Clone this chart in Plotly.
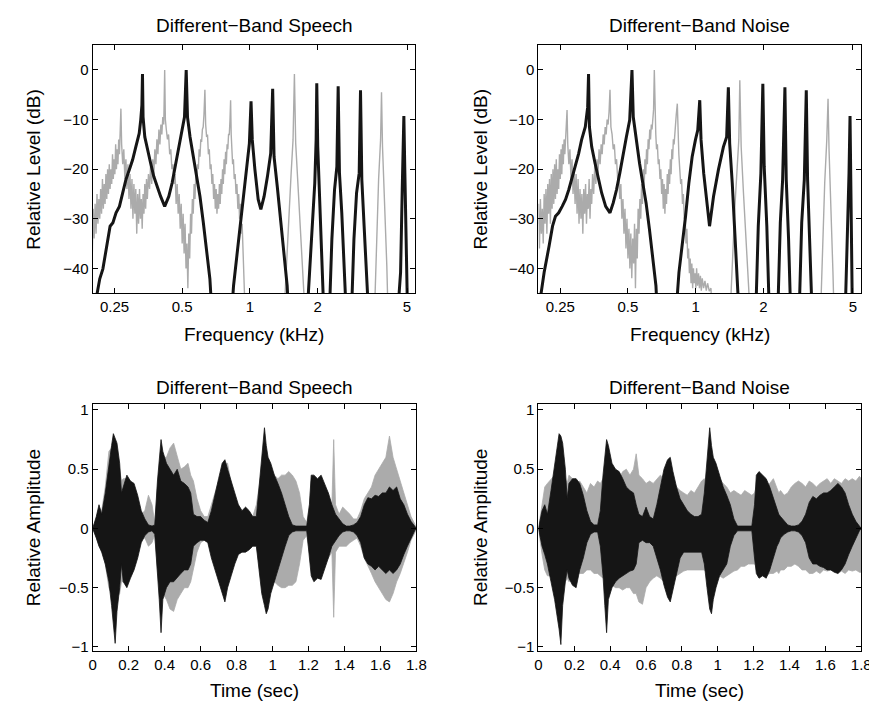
import plotly.graph_objects as go

# ---------------- DATA ----------------
# Spectra as (frequency kHz, level dB) pairs; -50 marks where a trace drops below the axis
SPEECH_BLACK_SPEC = [
    (0.2, -50), (0.215, -42.1), (0.222, -40.1), (0.228, -36.8), (0.234, -33.5), (0.239, -31.5), (0.246, -30.8),
    (0.254, -28.8), (0.263, -27.5), (0.272, -24.8), (0.281, -22.1), (0.291, -20.1), (0.301, -18.1), (0.311, -15.5),
    (0.322, -12.8), (0.327, -10.1), (0.331, -7.1), (0.333, -0.8), (0.335, -9.5), (0.341, -13.5), (0.350, -16.1),
    (0.362, -18.8), (0.374, -21.5), (0.387, -23.5), (0.401, -25.5), (0.418, -27.5), (0.436, -25.5), (0.451, -22.8),
    (0.466, -19.5), (0.482, -16.1), (0.499, -12.8), (0.512, -9.5), (0.521, 0), (0.528, -9.5), (0.542, -13.5),
    (0.561, -17.5), (0.58, -20.8), (0.600, -25.5), (0.621, -30.8), (0.642, -36.8), (0.664, -42.1), (0.680, -50),
    (0.827, -50), (0.846, -43.5), (0.875, -37.5), (0.905, -31.5), (0.936, -24.8), (0.968, -19.5), (0.995, -14.8),
    (1.012, -6.3), (1.025, -14.1), (1.053, -20.1), (1.089, -26.1), (1.119, -28.1), (1.157, -25.5), (1.197, -21.5),
    (1.238, -16.8), (1.263, -3.8), (1.281, -17.5), (1.324, -23.5), (1.370, -30.1), (1.417, -36.8), (1.465, -43.5),
    (1.49, -50),
    (1.794, -50), (1.843, -40.8), (1.892, -31.5), (1.944, -22.8), (1.971, -14.1), (1.984, -2.7), (2.004, -15.5),
    (2.038, -25.5), (2.086, -35.5), (2.136, -50),
    (2.254, -50), (2.316, -34.1), (2.38, -24.1), (2.437, -19.5), (2.47, -3.3), (2.503, -20.8), (2.563, -28.8),
    (2.633, -39.5), (2.687, -50),
    (2.826, -50), (2.903, -34.1), (2.982, -24.8), (3.063, -20.8), (3.105, -4.1), (3.147, -22.1), (3.222, -31.5),
    (3.31, -40.8), (3.378, -50),
    (4.53, -50), (4.68, -40.8), (4.76, -24.1), (4.81, -17.5), (4.84, -9.3), (4.89, -20.8), (4.96, -34.1), (5.03, -50),
]

SPEECH_GRAY_SPEC = [
    (0.194, -36), (0.197, -30), (0.199, -38), (0.201, -28), (0.203, -34), (0.205, -27), (0.207, -33), (0.209, -25),
    (0.211, -31), (0.213, -26), (0.215, -30), (0.217, -24), (0.219, -29), (0.221, -22), (0.223, -28), (0.225, -23),
    (0.227, -27), (0.229, -21), (0.231, -26), (0.233, -20), (0.235, -25), (0.237, -19), (0.239, -24), (0.241, -20),
    (0.243, -23), (0.245, -17), (0.247, -22), (0.249, -18), (0.251, -21), (0.253, -15), (0.255, -20), (0.257, -16),
    (0.259, -19), (0.261, -14), (0.263, -17), (0.265, -12), (0.267, -7.8), (0.269, -15), (0.272, -19), (0.275, -16),
    (0.278, -22), (0.281, -18), (0.284, -24), (0.287, -19), (0.290, -26), (0.293, -21), (0.296, -28), (0.299, -22),
    (0.302, -30), (0.305, -23), (0.308, -29), (0.311, -24), (0.314, -33), (0.317, -25), (0.320, -31), (0.323, -24),
    (0.326, -30), (0.329, -26), (0.332, -32), (0.335, -25), (0.338, -29), (0.341, -23), (0.344, -28), (0.347, -22),
    (0.350, -26), (0.354, -21), (0.358, -24), (0.362, -19), (0.366, -23), (0.370, -18), (0.374, -21), (0.378, -16),
    (0.382, -19), (0.386, -14), (0.390, -17), (0.394, -12), (0.398, -15), (0.402, -11), (0.406, -13), (0.410, -9.5),
    (0.414, -11), (0.418, 0),
    (0.421, -10), (0.425, -12), (0.430, -14), (0.435, -13), (0.440, -17), (0.445, -16), (0.450, -20), (0.455, -19),
    (0.460, -23), (0.465, -21), (0.470, -27), (0.475, -23), (0.480, -29), (0.485, -25), (0.490, -32), (0.495, -27),
    (0.500, -35), (0.505, -29), (0.510, -37), (0.515, -31), (0.520, -40), (0.525, -35), (0.530, -44), (0.535, -33),
    (0.540, -38), (0.545, -29), (0.550, -33), (0.555, -26), (0.560, -29), (0.565, -23), (0.570, -26), (0.575, -21),
    (0.580, -23), (0.585, -19), (0.590, -20), (0.595, -16), (0.600, -17.5), (0.605, -14), (0.610, -14.5),
    (0.615, -12), (0.620, -11.5), (0.625, -9), (0.631, -4), (0.636, -11), (0.642, -13.5), (0.648, -13),
    (0.654, -17), (0.660, -16), (0.666, -20), (0.672, -19), (0.678, -23), (0.684, -21), (0.690, -26), (0.696, -23),
    (0.702, -28), (0.708, -24), (0.714, -29), (0.720, -25), (0.726, -28), (0.732, -23), (0.738, -27), (0.744, -22),
    (0.750, -25), (0.756, -20), (0.762, -23), (0.768, -18), (0.774, -21), (0.780, -16.5), (0.786, -19),
    (0.792, -15), (0.798, -16), (0.804, -13), (0.810, -13), (0.816, -10), (0.821, -6.1), (0.826, -13),
    (0.832, -17), (0.838, -19), (0.845, -18), (0.852, -22), (0.860, -21), (0.868, -25), (0.876, -23), (0.884, -28),
    (0.892, -25), (0.900, -30), (0.908, -27), (0.916, -33), (0.924, -31), (0.932, -38), (0.940, -42), (0.946, -45),
    (0.955, -50),
    (1.417, -50), (1.45, -40.8), (1.49, -28.8), (1.526, -20.8), (1.556, -14.1), (1.578, -0.8), (1.599, -14.8),
    (1.637, -23.5), (1.682, -32.8), (1.734, -43.5), (1.763, -50),
    (3.578, -50), (3.662, -34.1), (3.737, -22.1), (3.813, -14.1), (3.85, -4.5), (3.89, -15.5), (3.97, -26.1),
    (4.065, -39.5), (4.12, -50),
]

NOISE_BLACK_SPEC = [
    (0.198, -50), (0.212, -40.8), (0.223, -35.5), (0.231, -31.5), (0.238, -29.5), (0.246, -28.8), (0.255, -27.5),
    (0.264, -26.1), (0.273, -24.1), (0.281, -22.1), (0.292, -19.5), (0.302, -16.8), (0.311, -14.1), (0.323, -11.5),
    (0.331, -7.5), (0.334, -0.8), (0.337, -11.5), (0.345, -15.5), (0.357, -18.8), (0.370, -22.1), (0.382, -24.8),
    (0.398, -27.5), (0.416, -28.8), (0.430, -26.8), (0.445, -24.1), (0.460, -20.8), (0.476, -16.8), (0.492, -13.5),
    (0.509, -10.1), (0.521, 0), (0.528, -9.5), (0.544, -14.1), (0.563, -18.8), (0.582, -22.8), (0.602, -26.8),
    (0.623, -32.1), (0.644, -37.5), (0.666, -43.5), (0.677, -50),
    (0.815, -50), (0.843, -40.8), (0.872, -35.5), (0.902, -29.5), (0.933, -22.8), (0.965, -17.5), (0.998, -14.1),
    (1.022, -12.1), (1.043, -6.1), (1.057, -14.1), (1.086, -20.8), (1.123, -27.5), (1.153, -31.5), (1.201, -25.5),
    (1.263, -20.1), (1.329, -15.5), (1.374, -13.5), (1.398, -3.5), (1.417, -14.8), (1.455, -22.8), (1.495, -31.5),
    (1.531, -40.8), (1.562, -50),
    (1.849, -50), (1.899, -31.5), (1.951, -20.8), (1.990, -2.8), (2.018, -19.5), (2.073, -31.5), (2.129, -50),
    (2.316, -50), (2.38, -30.8), (2.437, -22.1), (2.495, -3.5), (2.529, -22.1), (2.59, -34.1), (2.65, -50),
    (2.883, -50), (2.963, -30.8), (3.043, -22.1), (3.105, -4.1), (3.147, -22.1), (3.222, -34.1), (3.30, -50),
    (4.62, -50), (4.75, -30.8), (4.81, -20.8), (4.86, -9.3), (4.91, -24.1), (4.98, -50),
]

NOISE_GRAY_SPEC = [
    (0.198, -31), (0.200, -27), (0.202, -36), (0.204, -26), (0.206, -33), (0.208, -28), (0.210, -35), (0.212, -25),
    (0.214, -31), (0.216, -24), (0.218, -33), (0.220, -23), (0.222, -29), (0.224, -22), (0.226, -31), (0.228, -21),
    (0.230, -28), (0.232, -20), (0.234, -27), (0.236, -19), (0.238, -26), (0.240, -18), (0.242, -25), (0.244, -20),
    (0.246, -24), (0.248, -17), (0.250, -22), (0.252, -16), (0.254, -21), (0.256, -15), (0.258, -19), (0.260, -14),
    (0.262, -17), (0.264, -13), (0.266, -11), (0.268, -8.1), (0.270, -15), (0.273, -19), (0.276, -16), (0.279, -22),
    (0.282, -18), (0.285, -25), (0.288, -20), (0.291, -27), (0.294, -21), (0.297, -29), (0.300, -22), (0.303, -31),
    (0.306, -24), (0.309, -30), (0.312, -25), (0.315, -33), (0.318, -24), (0.321, -29), (0.324, -23), (0.327, -31),
    (0.330, -25), (0.333, -28), (0.336, -22), (0.339, -30), (0.342, -24), (0.345, -27), (0.348, -21), (0.352, -25),
    (0.356, -19), (0.360, -23), (0.364, -18), (0.368, -21), (0.372, -16), (0.376, -19), (0.380, -15), (0.384, -17),
    (0.388, -13), (0.392, -15), (0.396, -11.5), (0.400, -13), (0.404, -10), (0.408, -11), (0.412, -8.5),
    (0.416, -4),
    (0.420, -11.5), (0.425, -13), (0.430, -16), (0.435, -15), (0.440, -19), (0.445, -18), (0.450, -22),
    (0.455, -21), (0.460, -26), (0.465, -23), (0.470, -30), (0.475, -26), (0.480, -33), (0.485, -28), (0.490, -36),
    (0.495, -30), (0.500, -38), (0.505, -32), (0.510, -40), (0.515, -33), (0.520, -42), (0.525, -34), (0.530, -39),
    (0.535, -31), (0.540, -44), (0.545, -32), (0.550, -38), (0.555, -28), (0.560, -33), (0.565, -26), (0.570, -30),
    (0.575, -23), (0.580, -27), (0.585, -20), (0.590, -24), (0.595, -18), (0.600, -21), (0.605, -16), (0.610, -19),
    (0.615, -14), (0.620, -16), (0.625, -12), (0.630, -14), (0.635, -11), (0.640, -12), (0.645, -9), (0.650, -8),
    (0.655, 0),
    (0.660, -10), (0.665, -13), (0.670, -16), (0.676, -15), (0.682, -19), (0.688, -18), (0.694, -22), (0.700, -20),
    (0.706, -25), (0.712, -22), (0.718, -28), (0.724, -23), (0.730, -29), (0.736, -24), (0.742, -27), (0.748, -21),
    (0.754, -25), (0.760, -20), (0.766, -23), (0.772, -18), (0.778, -21), (0.784, -16), (0.790, -18), (0.796, -14),
    (0.802, -15), (0.808, -12), (0.814, -12), (0.820, -9), (0.829, -6.8), (0.835, -13), (0.842, -17), (0.850, -20),
    (0.858, -23), (0.866, -22), (0.874, -27), (0.882, -25), (0.890, -30), (0.898, -29), (0.906, -35), (0.914, -32),
    (0.922, -38), (0.930, -36), (0.938, -41), (0.946, -38), (0.954, -43), (0.962, -39), (0.970, -44), (0.978, -40),
    (0.986, -43), (0.994, -41), (1.002, -44), (1.010, -40), (1.020, -43.5), (1.030, -41), (1.040, -44),
    (1.050, -41.5), (1.060, -44.5), (1.070, -42), (1.085, -44), (1.100, -42.5), (1.115, -44.5), (1.130, -43),
    (1.150, -44.6), (1.170, -44), (1.185, -50),
    (1.421, -50), (1.460, -37.5), (1.495, -27.5), (1.531, -19.5), (1.556, -14.1), (1.572, -2.1), (1.594, -15.5),
    (1.632, -24.8), (1.676, -34.1), (1.722, -43.5), (1.751, -50),
    (3.59, -50), (3.675, -34.1), (3.75, -22.8), (3.83, -14.1), (3.88, -5.8), (3.92, -16.1), (4.00, -27.5),
    (4.08, -40.8), (4.13, -50),
]

FREQ_TICKS = [0.25, 0.5, 1, 2, 5]
FREQ_TICK_TEXT = ["0.25", "0.5", "1", "2", "5"]
LEVEL_TICKS = [-40, -30, -20, -10, 0]
TIME_TICKS = [0, 0.2, 0.4, 0.6, 0.8, 1, 1.2, 1.4, 1.6, 1.8]
AMP_TICKS = [-1, -0.5, 0, 0.5, 1]

# Waveform envelopes (time in s, relative amplitude)
TIME_S = [0, 0.02, 0.035, 0.05, 0.07, 0.09, 0.105, 0.115, 0.125, 0.135,
          0.15, 0.16, 0.17, 0.19, 0.21, 0.23, 0.25, 0.27, 0.29, 0.31,
          0.33, 0.345, 0.36, 0.37, 0.38, 0.39, 0.41, 0.43, 0.45, 0.47,
          0.49, 0.51, 0.53, 0.545, 0.56, 0.58, 0.6, 0.62, 0.64, 0.66,
          0.68, 0.7, 0.72, 0.735, 0.75, 0.77, 0.79, 0.81, 0.83, 0.85,
          0.87, 0.89, 0.91, 0.925, 0.94, 0.955, 0.965, 0.975, 0.99, 1.01,
          1.03, 1.05, 1.07, 1.09, 1.11, 1.13, 1.15, 1.17, 1.19, 1.205,
          1.215, 1.23, 1.25, 1.27, 1.29, 1.31, 1.33, 1.34, 1.35, 1.37,
          1.39, 1.41, 1.43, 1.45, 1.47, 1.49, 1.51, 1.53, 1.55, 1.57,
          1.59, 1.61, 1.63, 1.65, 1.67, 1.69, 1.71, 1.73, 1.75, 1.77,
          1.79, 1.8]

SPEECH_BLACK_UP = [0, 0.1, 0.2, 0.12, 0.3, 0.55, 0.7, 0.8, 0.76, 0.72,
                   0.55, 0.3, 0.35, 0.45, 0.4, 0.38, 0.28, 0.15, 0.08, 0.03,
                   0.02, 0.03, 0.4, 0.62, 0.75, 0.65, 0.55, 0.5, 0.45, 0.5,
                   0.4, 0.38, 0.35, 0.3, 0.12, 0.1, 0.1, 0.07, 0.05, 0.15,
                   0.3, 0.42, 0.55, 0.58, 0.5, 0.4, 0.3, 0.2, 0.15, 0.18,
                   0.15, 0.1, 0.1, 0.35, 0.55, 0.85, 0.7, 0.6, 0.55, 0.45,
                   0.38, 0.3, 0.2, 0.1, 0.03, 0.02, 0.02, 0.02, 0.02, 0.2,
                   0.45, 0.45, 0.42, 0.45, 0.38, 0.3, 0.2, 0.15, 0.12, 0.08,
                   0.04, 0.02, 0.02, 0.03, 0.05, 0.1, 0.2, 0.26, 0.25, 0.28,
                   0.27, 0.3, 0.3, 0.35, 0.32, 0.35, 0.25, 0.2, 0.12, 0.06,
                   0.02, 0]
SPEECH_BLACK_LO = [0, -0.08, -0.15, -0.2, -0.3, -0.45, -0.65, -0.8, -0.97, -0.7,
                   -0.5, -0.3, -0.45, -0.5, -0.42, -0.35, -0.25, -0.12, -0.06, -0.03,
                   -0.02, -0.05, -0.4, -0.6, -0.88, -0.6, -0.5, -0.45, -0.45, -0.42,
                   -0.38, -0.35, -0.35, -0.3, -0.15, -0.12, -0.1, -0.1, -0.12, -0.25,
                   -0.35, -0.45, -0.55, -0.62, -0.5, -0.4, -0.3, -0.22, -0.2, -0.2,
                   -0.18, -0.15, -0.15, -0.35, -0.55, -0.65, -0.72, -0.68, -0.55, -0.45,
                   -0.35, -0.25, -0.15, -0.06, -0.03, -0.02, -0.02, -0.02, -0.02, -0.25,
                   -0.4, -0.45, -0.42, -0.43, -0.35, -0.25, -0.15, -0.12, -0.1, -0.06,
                   -0.03, -0.02, -0.02, -0.03, -0.06, -0.12, -0.25, -0.3, -0.32, -0.35,
                   -0.32, -0.35, -0.38, -0.35, -0.38, -0.35, -0.3, -0.22, -0.15, -0.08,
                   -0.02, 0]
SPEECH_GRAY_UP = [0, 0.08, 0.18, 0.15, 0.35, 0.65, 0.68, 0.72, 0.7, 0.65,
                  0.5, 0.4, 0.42, 0.42, 0.38, 0.3, 0.2, 0.12, 0.15, 0.28,
                  0.2, 0.05, 0.35, 0.5, 0.55, 0.6, 0.6, 0.68, 0.72, 0.6,
                  0.5, 0.52, 0.55, 0.45, 0.4, 0.25, 0.15, 0.1, 0.1, 0.2,
                  0.3, 0.4, 0.5, 0.55, 0.55, 0.38, 0.25, 0.2, 0.15, 0.15,
                  0.12, 0.1, 0.2, 0.35, 0.5, 0.6, 0.55, 0.5, 0.5, 0.45,
                  0.42, 0.45, 0.45, 0.48, 0.45, 0.4, 0.3, 0.1, 0.05, 0.2,
                  0.4, 0.4, 0.38, 0.4, 0.35, 0.3, 0.2, 0.75, 0.2, 0.12,
                  0.18, 0.15, 0.12, 0.08, 0.08, 0.15, 0.25, 0.3, 0.35, 0.45,
                  0.5, 0.55, 0.6, 0.78, 0.6, 0.5, 0.4, 0.3, 0.2, 0.1,
                  0.04, 0]
SPEECH_GRAY_LO = [0, -0.08, -0.15, -0.18, -0.3, -0.5, -0.55, -0.6, -0.6, -0.58,
                  -0.55, -0.45, -0.45, -0.45, -0.4, -0.3, -0.2, -0.1, -0.08, -0.15,
                  -0.12, -0.05, -0.35, -0.45, -0.5, -0.55, -0.6, -0.68, -0.7, -0.6,
                  -0.55, -0.5, -0.5, -0.45, -0.35, -0.2, -0.12, -0.1, -0.1, -0.2,
                  -0.3, -0.4, -0.5, -0.55, -0.48, -0.35, -0.25, -0.2, -0.18, -0.18,
                  -0.15, -0.12, -0.15, -0.3, -0.5, -0.6, -0.6, -0.55, -0.5, -0.45,
                  -0.48, -0.5, -0.5, -0.48, -0.48, -0.45, -0.3, -0.1, -0.06, -0.2,
                  -0.35, -0.4, -0.4, -0.38, -0.3, -0.25, -0.2, -0.75, -0.2, -0.15,
                  -0.15, -0.15, -0.12, -0.1, -0.08, -0.15, -0.25, -0.32, -0.38, -0.45,
                  -0.5, -0.55, -0.6, -0.62, -0.55, -0.45, -0.38, -0.3, -0.2, -0.1,
                  -0.04, 0]
NOISE_BLACK_UP = [0, 0.15, 0.2, 0.12, 0.32, 0.55, 0.72, 0.8, 0.78, 0.72,
                  0.5, 0.25, 0.38, 0.42, 0.42, 0.38, 0.28, 0.15, 0.06, 0.03,
                  0.03, 0.15, 0.45, 0.62, 0.75, 0.7, 0.55, 0.5, 0.48, 0.42,
                  0.35, 0.32, 0.3, 0.2, 0.12, 0.1, 0.18, 0.1, 0.08, 0.2,
                  0.35, 0.5, 0.58, 0.6, 0.48, 0.35, 0.25, 0.2, 0.15, 0.12,
                  0.1, 0.1, 0.12, 0.3, 0.55, 0.85, 0.7, 0.6, 0.55, 0.45,
                  0.35, 0.28, 0.2, 0.08, 0.02, 0.02, 0.02, 0.02, 0.02, 0.2,
                  0.45, 0.48, 0.45, 0.42, 0.35, 0.25, 0.15, 0.12, 0.1, 0.06,
                  0.03, 0.02, 0.02, 0.03, 0.06, 0.12, 0.22, 0.27, 0.25, 0.28,
                  0.3, 0.3, 0.32, 0.35, 0.38, 0.35, 0.3, 0.2, 0.12, 0.06,
                  0.02, 0]
NOISE_BLACK_LO = [0, -0.15, -0.22, -0.3, -0.45, -0.6, -0.75, -0.85, -0.98, -0.65,
                  -0.45, -0.35, -0.42, -0.48, -0.5, -0.35, -0.25, -0.12, -0.05, -0.03,
                  -0.03, -0.15, -0.4, -0.65, -0.88, -0.6, -0.5, -0.45, -0.42, -0.4,
                  -0.38, -0.36, -0.35, -0.3, -0.12, -0.1, -0.12, -0.12, -0.15, -0.25,
                  -0.35, -0.48, -0.58, -0.62, -0.5, -0.38, -0.25, -0.2, -0.2, -0.2,
                  -0.2, -0.2, -0.2, -0.3, -0.5, -0.68, -0.72, -0.6, -0.5, -0.4,
                  -0.35, -0.3, -0.15, -0.06, -0.02, -0.02, -0.02, -0.02, -0.02, -0.25,
                  -0.38, -0.42, -0.4, -0.42, -0.35, -0.25, -0.15, -0.12, -0.08, -0.05,
                  -0.03, -0.02, -0.02, -0.03, -0.06, -0.12, -0.25, -0.3, -0.3, -0.32,
                  -0.33, -0.35, -0.35, -0.37, -0.38, -0.35, -0.3, -0.22, -0.15, -0.08,
                  -0.02, 0]
NOISE_GRAY_UP = [0, 0.22, 0.35, 0.38, 0.42, 0.45, 0.4, 0.42, 0.45, 0.4,
                 0.42, 0.38, 0.45, 0.42, 0.38, 0.4, 0.35, 0.3, 0.38, 0.35,
                 0.4, 0.38, 0.42, 0.4, 0.45, 0.4, 0.42, 0.45, 0.42, 0.48,
                 0.5, 0.45, 0.5, 0.63, 0.45, 0.42, 0.38, 0.4, 0.38, 0.42,
                 0.45, 0.42, 0.45, 0.42, 0.4, 0.35, 0.32, 0.3, 0.28, 0.32,
                 0.3, 0.35, 0.4, 0.42, 0.38, 0.4, 0.42, 0.38, 0.4, 0.42,
                 0.38, 0.35, 0.3, 0.32, 0.3, 0.28, 0.32, 0.3, 0.28, 0.3,
                 0.35, 0.32, 0.38, 0.35, 0.38, 0.42, 0.35, 0.3, 0.32, 0.28,
                 0.3, 0.35, 0.38, 0.4, 0.38, 0.35, 0.4, 0.38, 0.35, 0.38,
                 0.4, 0.42, 0.38, 0.42, 0.4, 0.38, 0.42, 0.4, 0.42, 0.4,
                 0.44, 0.42]
NOISE_GRAY_LO = [0, -0.22, -0.35, -0.4, -0.4, -0.42, -0.45, -0.42, -0.45, -0.45,
                 -0.45, -0.42, -0.45, -0.42, -0.4, -0.38, -0.38, -0.35, -0.35, -0.38,
                 -0.38, -0.4, -0.42, -0.42, -0.45, -0.48, -0.48, -0.5, -0.5, -0.52,
                 -0.5, -0.5, -0.55, -0.55, -0.62, -0.64, -0.5, -0.45, -0.42, -0.4,
                 -0.42, -0.45, -0.45, -0.45, -0.42, -0.4, -0.38, -0.36, -0.35, -0.35,
                 -0.35, -0.35, -0.35, -0.35, -0.38, -0.38, -0.4, -0.4, -0.38, -0.4,
                 -0.42, -0.4, -0.38, -0.36, -0.35, -0.32, -0.32, -0.3, -0.3, -0.3,
                 -0.32, -0.35, -0.4, -0.4, -0.38, -0.38, -0.36, -0.38, -0.35, -0.35,
                 -0.32, -0.32, -0.3, -0.32, -0.35, -0.35, -0.38, -0.38, -0.36, -0.38,
                 -0.35, -0.36, -0.35, -0.35, -0.38, -0.36, -0.38, -0.35, -0.36, -0.35,
                 -0.37, -0.37]

TITLES = ["Different\u2212Band Speech", "Different\u2212Band Noise"]

# ---------------- FIGURE ----------------
W, H = 877, 703
BLACK = "#151515"
GRAY = "#ababab"
FONT = "Liberation Sans, Arial, sans-serif"

def px_x(v):
    return v / W

def px_y(v):
    return 1 - v / H

panels = {
    "tl": (82, 410, 34.5, 285),
    "tr": (535, 863, 34.5, 285),
    "bl": (82, 411, 397, 646.5),
    "br": (535, 863, 397, 646.5),
}
axis_ids = {"tl": ("x", "y"), "tr": ("x2", "y2"), "bl": ("x3", "y3"), "br": ("x4", "y4")}

fig = go.Figure()

def spec(name, pairs, color, width):
    xa, ya = axis_ids[name]
    xs = [p[0] for p in pairs]
    ys = [p[1] for p in pairs]
    fig.add_trace(go.Scatter(x=xs, y=ys, mode="lines", line=dict(color=color, width=width),
                             xaxis=xa, yaxis=ya, showlegend=False, hoverinfo="skip"))

def wave(name, t, up, lo, color):
    xa, ya = axis_ids[name]
    xs = list(t) + list(t)[::-1]
    ys = list(up) + list(lo)[::-1]
    fig.add_trace(go.Scatter(x=xs, y=ys, mode="lines", fill="toself", fillcolor=color,
                             line=dict(color=color, width=0.8), xaxis=xa, yaxis=ya,
                             showlegend=False, hoverinfo="skip"))

spec("tl", SPEECH_GRAY_SPEC, GRAY, 1.4)
spec("tl", SPEECH_BLACK_SPEC, BLACK, 3)
spec("tr", NOISE_GRAY_SPEC, GRAY, 1.4)
spec("tr", NOISE_BLACK_SPEC, BLACK, 3)

wave("bl", TIME_S, SPEECH_GRAY_UP, SPEECH_GRAY_LO, GRAY)
wave("bl", TIME_S, SPEECH_BLACK_UP, SPEECH_BLACK_LO, BLACK)
wave("br", TIME_S, NOISE_GRAY_UP, NOISE_GRAY_LO, GRAY)
wave("br", TIME_S, NOISE_BLACK_UP, NOISE_BLACK_LO, BLACK)

common = dict(showline=True, linecolor="black", linewidth=1, mirror="allticks", ticks="inside",
              ticklen=5, tickcolor="black", showgrid=False, zeroline=False,
              tickfont=dict(family=FONT, size=15, color="black"))

layout = dict(width=W, height=H, margin=dict(l=0, r=0, t=0, b=0),
              paper_bgcolor="white", plot_bgcolor="white", showlegend=False)

for name, (l, r, t, b) in panels.items():
    xa, ya = axis_ids[name]
    xkey = "xaxis" if xa == "x" else "xaxis" + xa[1:]
    ykey = "yaxis" if ya == "y" else "yaxis" + ya[1:]
    xd = dict(common, domain=[px_x(l), px_x(r)], anchor=ya)
    yd = dict(common, domain=[px_y(b), px_y(t)], anchor=xa)
    if name in ("tl", "tr"):
        xd.update(type="log", range=[-0.699, 0.7364], tickvals=FREQ_TICKS, ticktext=FREQ_TICK_TEXT)
        yd.update(range=[-45, 5], tickvals=LEVEL_TICKS)
    else:
        xd.update(range=[0, 1.8], tickvals=TIME_TICKS)
        yd.update(range=[-1.035, 1.05], tickvals=AMP_TICKS)
    layout[xkey] = xd
    layout[ykey] = yd

fig.update_layout(**layout)

ann = []
lab_font = dict(family=FONT, size=19, color="black")
for name, (l, r, t, b) in panels.items():
    top = name in ("tl", "tr")
    cx = (l + r) / 2
    cy = (t + b) / 2
    title = TITLES[0] if name in ("tl", "bl") else TITLES[1]
    ann.append(dict(text=title, x=px_x(cx), y=px_y(15 if top else 380), xref="paper", yref="paper",
                    showarrow=False, xanchor="center", yanchor="middle", font=lab_font))
    ann.append(dict(text="Frequency (kHz)" if top else "Time (sec)", x=px_x(cx),
                    y=px_y(327 if top else 686), xref="paper", yref="paper",
                    showarrow=False, xanchor="center", yanchor="middle", font=lab_font))
    ann.append(dict(text="Relative Level (dB)" if top else "Relative Amplitude",
                    x=px_x(22 if l < 300 else 476), y=px_y(cy), xref="paper", yref="paper",
                    showarrow=False, xanchor="center", yanchor="middle", textangle=-90, font=lab_font))
fig.update_layout(annotations=ann)

fig.write_html("out.html")
